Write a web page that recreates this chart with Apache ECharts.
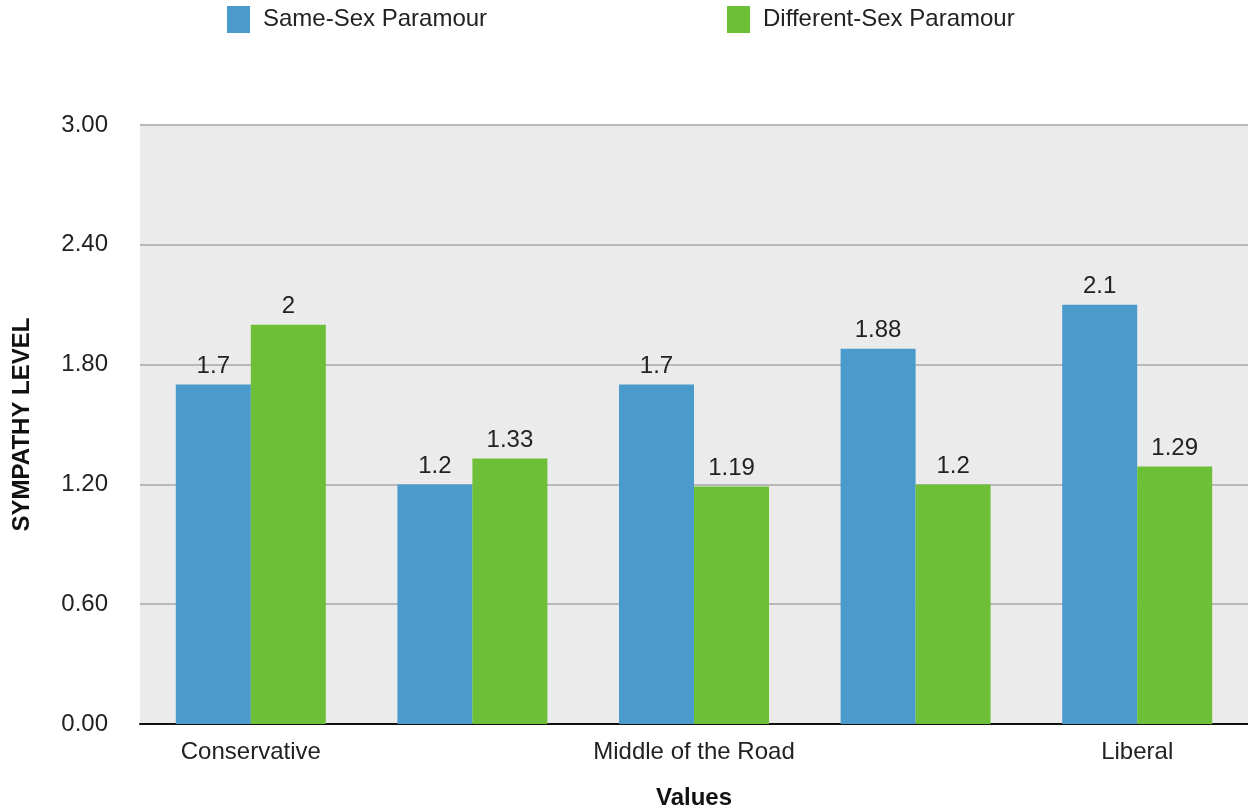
<!DOCTYPE html>
<html><head><meta charset="utf-8">
<script src="https://cdn.jsdelivr.net/npm/echarts@6/dist/echarts.min.js"></script>
<style>html,body{margin:0;padding:0;background:#fff}#c{width:1248px;height:810px}</style>
</head><body><div id="c"></div>
<script>
const categories = ["Conservative", "", "Middle of the Road", "", "Liberal"];
const sameSex = [1.7, 1.2, 1.7, 1.88, 2.1];
const diffSex = [2, 1.33, 1.19, 1.2, 1.29];
const seriesNames = ["Same-Sex Paramour", "Different-Sex Paramour"];
const FONT = "Liberation Sans";
const chart = echarts.init(document.getElementById('c'));
const lbl = {show: true, position: 'top', distance: 6, color: '#222', fontSize: 24, fontFamily: FONT};
const legText = {fontSize: 24, color: '#222', fontFamily: FONT, padding: [0, 0, 0, 8]};
chart.setOption({
  animation: false,
  textStyle: {fontFamily: FONT},
  color: ['#4a9bcb', '#6dbf38'],
  legend: [
    {top: 1, left: 222, itemWidth: 23, itemHeight: 27, icon: 'rect', textStyle: legText, data: [seriesNames[0]]},
    {top: 1, left: 722, itemWidth: 23, itemHeight: 27, icon: 'rect', textStyle: legText, data: [seriesNames[1]]}
  ],
  grid: {left: 140, right: 0, top: 125, bottom: 86, show: true, backgroundColor: '#ebebeb', borderWidth: 0,
         containLabel: false, outerBoundsMode: 'none'},
  xAxis: {
    type: 'category', data: categories,
    name: 'Values', nameLocation: 'middle', nameGap: 62,
    nameTextStyle: {fontSize: 24, fontWeight: 'bold', color: '#111', fontFamily: FONT},
    axisLine: {lineStyle: {color: '#111', width: 2}},
    axisTick: {show: false},
    axisLabel: {interval: 0, fontSize: 24, color: '#222', margin: 16, fontFamily: FONT}
  },
  yAxis: {
    type: 'value', min: 0, max: 3, interval: 0.6,
    name: 'SYMPATHY LEVEL', nameLocation: 'middle', nameGap: 106, nameRotate: 90,
    nameTextStyle: {fontSize: 24, fontWeight: 'bold', color: '#111', fontFamily: FONT},
    axisLine: {show: false}, axisTick: {show: false},
    axisLabel: {formatter: v => v.toFixed(2), fontSize: 24, color: '#222', margin: 32, fontFamily: FONT},
    splitLine: {lineStyle: {color: '#b8b8b8', width: 2}}
  },
  series: [
    {name: seriesNames[0], type: 'bar', data: sameSex, barWidth: 75, barGap: '0%', label: lbl},
    {name: seriesNames[1], type: 'bar', data: diffSex, barWidth: 75, barGap: '0%', label: lbl}
  ]
});
</script></body></html>
